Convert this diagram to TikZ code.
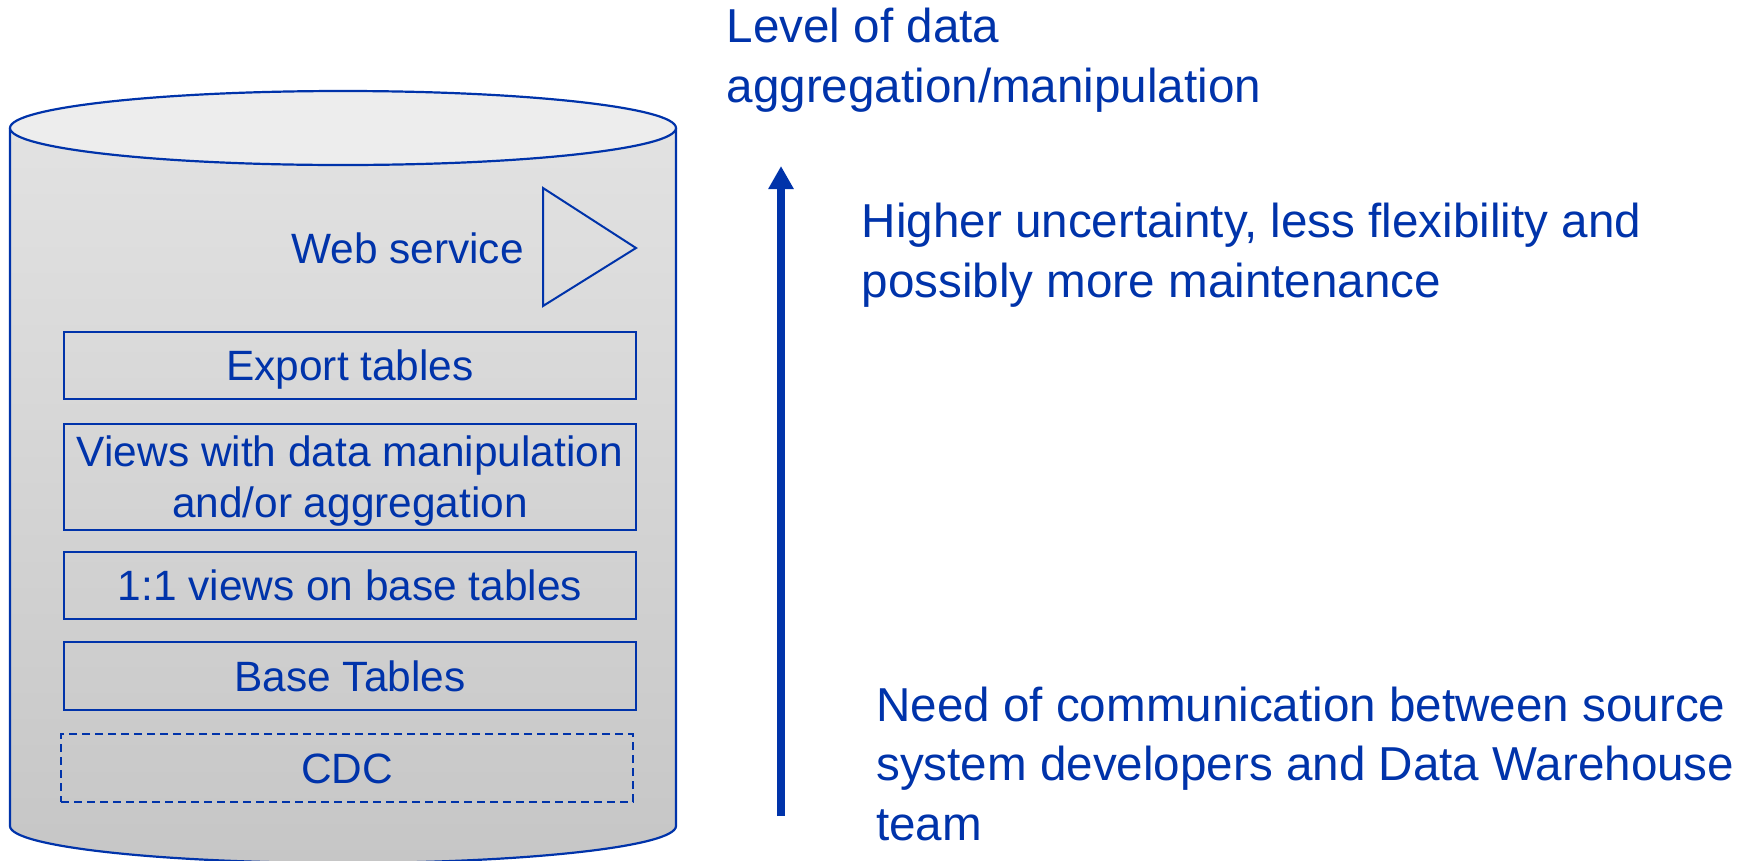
\documentclass[tikz,border=0pt]{standalone}
\usepackage{fontspec}
\setmainfont{Liberation Sans}
\usetikzlibrary{arrows.meta}
\definecolor{dblue}{HTML}{0033AA}
\definecolor{topfill}{HTML}{EDEDED}
\definecolor{bodytop}{HTML}{E2E2E2}
\definecolor{bodybot}{HTML}{C6C6C6}
\begin{document}
\begin{tikzpicture}[x=1pt,y=-1pt,
  outline/.style={draw=dblue, line width=2.2pt},
  layerbox/.style={outline, minimum width=572pt, inner sep=0pt, text=dblue,
    font=\fontsize{42.4}{51}\selectfont, align=center},
  onerow/.style={text height=30.4pt, text depth=0pt},
  bigtext/.style={text=dblue, font=\fontsize{47.6}{59.5}\selectfont, align=left,
    inner sep=0pt, anchor=base west}]
\useasboundingbox (0,0) rectangle (1758,860);
% cylinder body
\path[top color=bodytop, bottom color=bodybot]
  (10,128) -- (10,826) arc[start angle=180, end angle=360, x radius=333pt, y radius=37pt]
  -- (676,128) -- cycle;
\draw[outline]
  (10,128) -- (10,826) arc[start angle=180, end angle=360, x radius=333pt, y radius=37pt]
  -- (676,128);
\draw[outline, fill=topfill] (343,128) ellipse[x radius=333pt, y radius=37pt];
% web service
\node[text=dblue, font=\fontsize{42.4}{51}\selectfont, inner sep=0pt, anchor=base east]
  (ws) at (524,263) {Web service};
\draw[dblue, line width=2pt, line join=miter] (543,188) -- (543,306) -- (636,248) -- cycle;
% layers
\node[layerbox, onerow, minimum height=67pt] (export) at (350,365.5) {Export tables};
\node[layerbox, text height=81.4pt, text depth=0pt, minimum height=106pt] (views) at (350,477)
  {Views with data manipulation\\and/or aggregation};
\node[layerbox, onerow, minimum height=67pt] (oneone) at (350,585.5) {1:1 views on base tables};
\node[layerbox, onerow, minimum height=68pt] (base) at (350,676) {Base Tables};
\node[layerbox, onerow, minimum height=68pt, line width=1.8pt,
  dash pattern=on 8pt off 5pt] (cdc) at (347,768) {CDC};
% arrow
\coordinate (abot) at (781,816);
\coordinate (atop) at (781,166);
\draw[dblue, line width=8.5pt, -{Triangle[width=24pt, length=23pt]}] (abot) -- (atop);
% texts (anchor = baseline of the last line)
\node[bigtext] (level) at (726.5,102) {Level of data\\aggregation/manipulation};
\node[bigtext] (higher) at (861.5,297) {Higher uncertainty, less flexibility and\\possibly more maintenance};
\node[bigtext] (need) at (876,840) {Need of communication between source\\system developers and Data Warehouse\\team};
\end{tikzpicture}
\end{document}
